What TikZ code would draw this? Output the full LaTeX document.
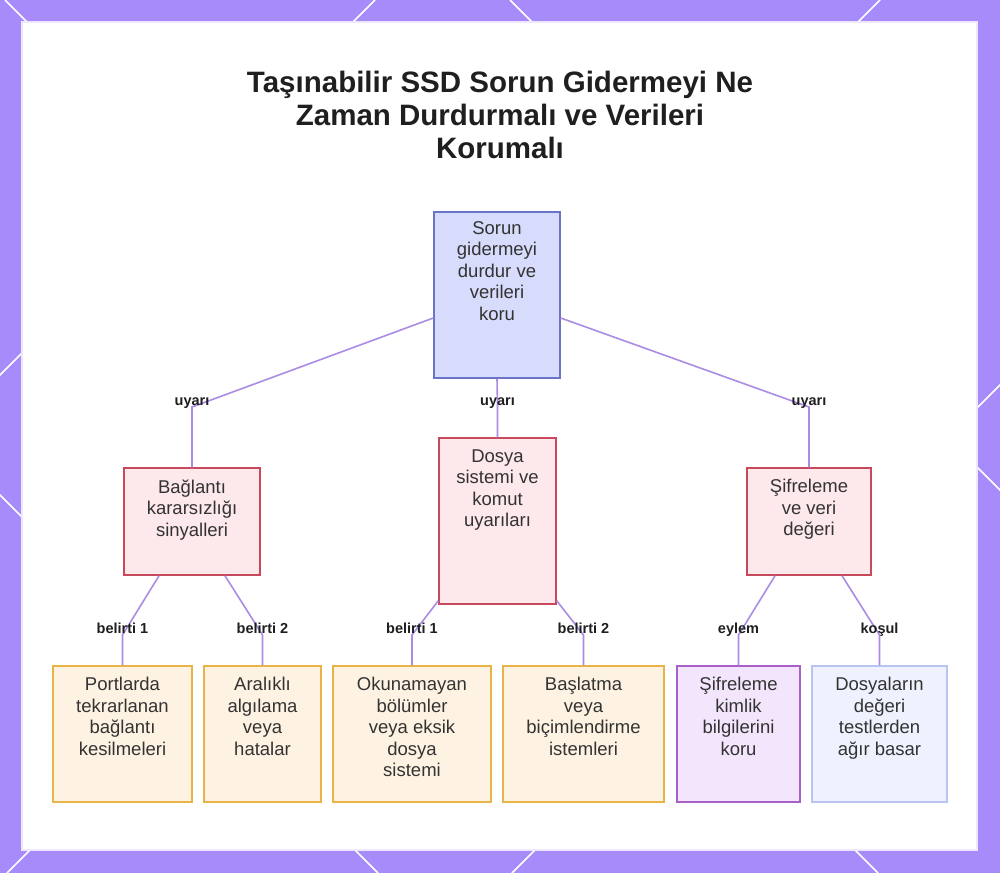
\documentclass[tikz,border=0pt]{standalone}
\usepackage{fontspec}
\setmainfont{Liberation Sans}
\usetikzlibrary{positioning}

\definecolor{framepurple}{RGB}{167,139,250}
\definecolor{linkpurple}{RGB}{170,140,228}
\definecolor{rootfill}{RGB}{216,220,252}
\definecolor{rootdraw}{RGB}{108,116,200}
\definecolor{warnfill}{RGB}{253,232,236}
\definecolor{warndraw}{RGB}{200,72,92}
\definecolor{signfill}{RGB}{254,243,226}
\definecolor{signdraw}{RGB}{232,180,72}
\definecolor{actfill}{RGB}{243,230,252}
\definecolor{actdraw}{RGB}{166,96,200}
\definecolor{condfill}{RGB}{238,242,254}
\definecolor{conddraw}{RGB}{186,196,240}
\definecolor{bodytext}{RGB}{51,51,51}

\begin{document}
\begin{tikzpicture}[
  x=1pt, y=-1pt,
  boxframe/.style={draw, line width=1.5pt, inner sep=0pt},
  rootbox/.style={boxframe, fill=rootfill, draw=rootdraw},
  warnbox/.style={boxframe, fill=warnfill, draw=warndraw},
  signbox/.style={boxframe, fill=signfill, draw=signdraw},
  actbox/.style={boxframe, fill=actfill, draw=actdraw},
  condbox/.style={boxframe, fill=condfill, draw=conddraw},
  boxtext/.style={align=center, inner sep=0pt, text=bodytext, font=\fontsize{18.5}{21.5}\selectfont},
  link/.style={draw=linkpurple, line width=1.6pt},
  linklabel/.style={anchor=base, inner sep=0pt, text=black!88, font=\bfseries\fontsize{14.5}{16}\selectfont},
  latticeline/.style={draw=white, line width=1.5pt}
]
  % frame and panel
  \fill[framepurple] (0,0) rectangle (1000,873);
  \begin{scope}
    \clip (0,0) rectangle (1000,873);
    \foreach \c in {-495,5,510} {\draw[latticeline] (\c,0) -- ++(873,873);}
    \foreach \c in {375,880,1385} {\draw[latticeline] (\c,0) -- ++(-873,873);}
  \end{scope}
  \filldraw[fill=white, draw=white!80!framepurple, line width=1.5pt] (22,22) rectangle (977,850);
  \useasboundingbox (0,0) rectangle (1000,873);

  \node[anchor=north, align=center, inner sep=0pt, text=black!88,
        font=\bfseries\fontsize{29.5}{33}\selectfont] (title) at (500,71)
    {Taşınabilir SSD Sorun Gidermeyi Ne\\Zaman Durdurmalı ve Verileri\\Korumalı};

  % boxes
  \node[rootbox, minimum width=126pt, minimum height=166pt] (stopnode) at (497,295) {};
  \node[warnbox, minimum width=136pt, minimum height=107pt] (warnnode1) at (192,521.5) {};
  \node[warnbox, minimum width=117pt, minimum height=166pt] (warnnode2) at (497.5,521) {};
  \node[warnbox, minimum width=124pt, minimum height=107pt] (warnnode3) at (809,521.5) {};
  \node[signbox, minimum width=139pt, minimum height=136pt] (signnode1) at (122.5,734) {};
  \node[signbox, minimum width=117pt, minimum height=136pt] (signnode2) at (262.5,734) {};
  \node[signbox, minimum width=158pt, minimum height=136pt] (signnode3) at (412,734) {};
  \node[signbox, minimum width=161pt, minimum height=136pt] (signnode4) at (583.5,734) {};
  \node[actbox, minimum width=123pt, minimum height=136pt] (actnode) at (738.5,734) {};
  \node[condbox, minimum width=135pt, minimum height=136pt] (condnode) at (879.5,734) {};

  % box texts
  \node[boxtext, below=10pt of stopnode.north] (stoptext) {Sorun\\gidermeyi\\durdur ve\\verileri\\koru};
  \node[boxtext, below=12pt of warnnode1.north] (warntext1) {Bağlantı\\kararsızlığı\\sinyalleri};
  \node[boxtext, below=12pt of warnnode2.north] (warntext2) {Dosya\\sistemi ve\\komut\\uyarıları};
  \node[boxtext, below=12pt of warnnode3.north] (warntext3) {Şifreleme\\ve veri\\değeri};
  \node[boxtext, below=12pt of signnode1.north] (signtext1) {Portlarda\\tekrarlanan\\bağlantı\\kesilmeleri};
  \node[boxtext, below=12pt of signnode2.north] (signtext2) {Aralıklı\\algılama\\veya\\hatalar};
  \node[boxtext, below=12pt of signnode3.north] (signtext3) {Okunamayan\\bölümler\\veya eksik\\dosya\\sistemi};
  \node[boxtext, below=12pt of signnode4.north] (signtext4) {Başlatma\\veya\\biçimlendirme\\istemleri};
  \node[boxtext, below=12pt of actnode.north] (acttext) {Şifreleme\\kimlik\\bilgilerini\\koru};
  \node[boxtext, below=12pt of condnode.north] (condtext) {Dosyaların\\değeri\\testlerden\\ağır basar};

  % bends
  \coordinate (bend1) at (warnnode1.north |- 0,407);
  \coordinate (bend2) at (warnnode2.north |- 0,407);
  \coordinate (bend3) at (warnnode3.north |- 0,407);
  \coordinate (bend4) at (signnode1.north |- 0,635);
  \coordinate (bend5) at (signnode2.north |- 0,635);
  \coordinate (bend6) at (signnode3.north |- 0,635);
  \coordinate (bend7) at (signnode4.north |- 0,635);
  \coordinate (bend8) at (actnode.north |- 0,635);
  \coordinate (bend9) at (condnode.north |- 0,635);

  % connectors
  \draw[link] ([yshift=-23pt]stopnode.west) -- (bend1) -- (warnnode1.north);
  \draw[link] (stopnode.south) -- (bend2) -- (warnnode2.north);
  \draw[link] ([yshift=-23pt]stopnode.east) -- (bend3) -- (warnnode3.north);
  \draw[link] ([xshift=-33pt]warnnode1.south) -- (bend4) -- (signnode1.north);
  \draw[link] ([xshift=33pt]warnnode1.south) -- (bend5) -- (signnode2.north);
  \draw[link] ([yshift=4pt]warnnode2.south west) -- (bend6) -- (signnode3.north);
  \draw[link] ([yshift=4pt]warnnode2.south east) -- (bend7) -- (signnode4.north);
  \draw[link] ([xshift=-34pt]warnnode3.south) -- (bend8) -- (actnode.north);
  \draw[link] ([xshift=33pt]warnnode3.south) -- (bend9) -- (condnode.north);

  % connector labels
  \node[linklabel] (label1) at ([yshift=2pt]bend1) {uyarı};
  \node[linklabel] (label2) at ([yshift=2pt]bend2) {uyarı};
  \node[linklabel] (label3) at ([yshift=2pt]bend3) {uyarı};
  \node[linklabel] (label4) at ([yshift=2pt]bend4) {belirti 1};
  \node[linklabel] (label5) at ([yshift=2pt]bend5) {belirti 2};
  \node[linklabel] (label6) at ([yshift=2pt]bend6) {belirti 1};
  \node[linklabel] (label7) at ([yshift=2pt]bend7) {belirti 2};
  \node[linklabel] (label8) at ([yshift=2pt]bend8) {eylem};
  \node[linklabel] (label9) at ([yshift=2pt]bend9) {koşul};
\end{tikzpicture}
\end{document}
